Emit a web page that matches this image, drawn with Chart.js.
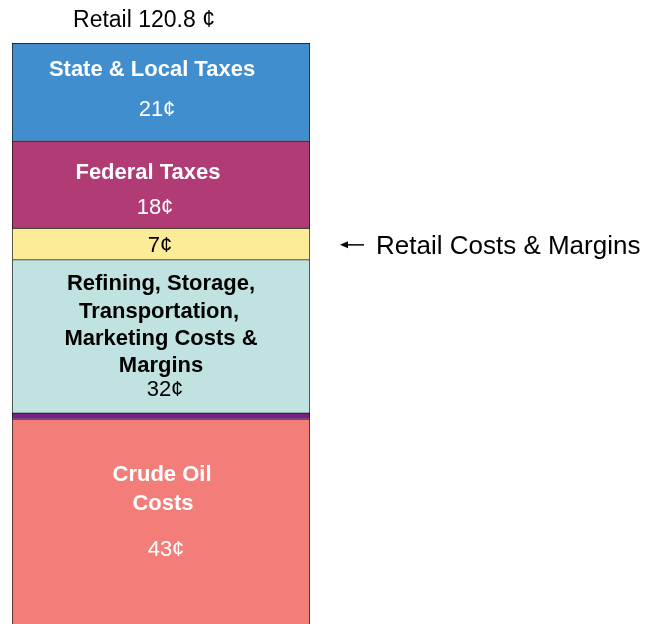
<!DOCTYPE html>
<html>
<head>
<meta charset="utf-8">
<script src="https://cdn.jsdelivr.net/npm/chart.js@4"></script>
<style>
  html, body { margin: 0; padding: 0; background: #ffffff; }
  #wrap { width: 647px; height: 624px; position: relative; }
</style>
</head>
<body>
<div id="wrap"><canvas id="c" width="647" height="624"></canvas></div>
<script>
// ---- data (bottom to top) ----
const segments = ['Crude Oil Costs', 'Distribution', 'Refining, Storage, Transportation, Marketing Costs & Margins', 'Retail Costs & Margins', 'Federal Taxes', 'State & Local Taxes'];
const values = [43.2, 1.25, 32.3, 6.6, 18.4, 20.6];
const valueLabels = ['43¢', '', '32¢', '7¢', '18¢', '21¢'];
const titleLines = [['Crude Oil', 'Costs'], [], ['Refining, Storage,', 'Transportation,', 'Marketing Costs &', 'Margins'], [], ['Federal Taxes'], ['State & Local Taxes']];
const totalLabel = 'Retail 120.8 ¢';
const calloutLabel = 'Retail Costs & Margins';
const calloutIndex = 3;

// ---- styles ----
const fillColors = ['#F37E79', '#762086', '#C0E2E1', '#FCEC98', '#B13B74', '#418ECE'];
const textColors = ['#ffffff', '#ffffff', '#000000', '#000000', '#ffffff', '#ffffff'];
// offsets [dx, dy] of each text line (titles then value) from the segment centre
const lineOffsets = [
  [[1, -46], [2, -17], [5, 29]],
  [],
  [[0, -52], [-2, -24], [0, 3], [0, 30], [4, 54]],
  [[-1, 2]],
  [[-13, -12], [-6, 23]],
  [[-9, -22], [-4, 18]]
];
const FONT = '"Liberation Sans", Arial, Helvetica, sans-serif';

const labelPlugin = {
  id: 'segLabels',
  afterDatasetsDraw(chart) {
    const ctx = chart.ctx;
    ctx.save();
    ctx.textAlign = 'center';
    ctx.textBaseline = 'middle';
    let barCenterX = 0, barTop = 0;
    chart.data.datasets.forEach((ds, i) => {
      const el = chart.getDatasetMeta(i).data[0];
      const top = Math.min(el.y, el.base), bottom = Math.max(el.y, el.base);
      const cy = (top + bottom) / 2;
      const cx = el.x;
      barCenterX = cx;
      if (i === chart.data.datasets.length - 1) barTop = top;
      const lines = titleLines[i].map(t => ({ t, bold: true }));
      if (valueLabels[i]) lines.push({ t: valueLabels[i], bold: false });
      ctx.fillStyle = textColors[i];
      lines.forEach((ln, k) => {
        const off = lineOffsets[i][k] || [0, 0];
        ctx.font = (ln.bold ? 'bold ' : '') + '22px ' + FONT;
        ctx.fillText(ln.t, cx + off[0], cy + off[1]);
      });
      if (i === calloutIndex) {
        const right = el.x + el.width / 2;
        const ay = cy + 1;
        ctx.strokeStyle = '#000';
        ctx.fillStyle = '#000';
        ctx.lineWidth = 1.5;
        ctx.beginPath();
        ctx.moveTo(right + 36, ay);
        ctx.lineTo(right + 54, ay);
        ctx.stroke();
        ctx.beginPath();
        ctx.moveTo(right + 30, ay);
        ctx.lineTo(right + 38, ay - 3.5);
        ctx.lineTo(right + 38, ay + 3.5);
        ctx.closePath();
        ctx.fill();
        ctx.textAlign = 'left';
        ctx.font = '26px ' + FONT;
        ctx.fillText(calloutLabel, right + 66, cy + 3);
        ctx.textAlign = 'center';
      }
    });
    ctx.fillStyle = '#000';
    ctx.font = '23px ' + FONT;
    ctx.fillText(totalLabel, barCenterX - 17, barTop - 22);
    ctx.restore();
  }
};

const datasets = segments.map((name, i) => ({
  label: name,
  data: [values[i]],
  backgroundColor: fillColors[i],
  borderColor: '#111111',
  borderWidth: 1,
  barPercentage: 1.0,
  categoryPercentage: 1.0
}));

const total = values.reduce((a, b) => a + b, 0);

new Chart(document.getElementById('c'), {
  type: 'bar',
  data: { labels: ['Retail'], datasets },
  options: {
    responsive: false,
    animation: false,
    devicePixelRatio: 1,
    layout: { padding: { left: 12, right: 337, top: 43, bottom: 0 } },
    plugins: { legend: { display: false }, tooltip: { enabled: false } },
    scales: {
      x: { stacked: true, display: false },
      y: { stacked: true, display: false, min: 0, max: total }
    }
  },
  plugins: [labelPlugin]
});
</script>
</body>
</html>
